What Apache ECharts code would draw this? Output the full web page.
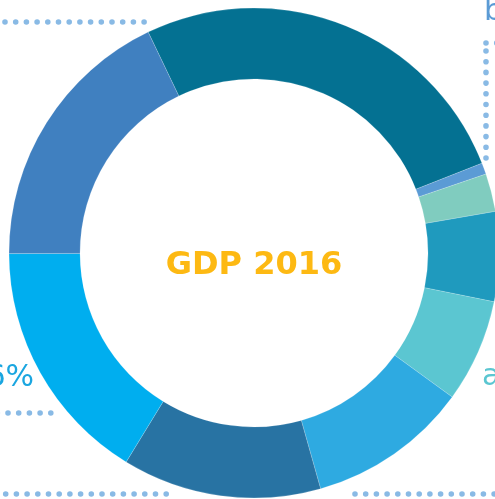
<!DOCTYPE html>
<html>
<head>
<meta charset="utf-8">
<script src="https://cdn.jsdelivr.net/npm/echarts@6/dist/echarts.min.js"></script>
<style>
html,body{margin:0;padding:0;background:#fff;}
#main{width:495px;height:499px;}
</style>
</head>
<body>
<div id="main"></div>
<script>
// Data (share of GDP 2016, percent)
var categories = ['Segment 1','Segment 2','Segment 3','Segment 4','Segment 5','Segment 6','Segment 7','Segment 8','Segment 9'];
var values = [26.1, 0.75, 2.5, 5.9, 6.8, 10.6, 13.1, 16.2, 17.9];
var colors = ['#047192','#5B9BD5','#80CCBF','#1F9ABE','#5BC6D1','#2EAAE1','#2873A3','#00AEEF','#4080C0'];
var centerTitle = 'GDP 2016';
var sideLabels = ['b', 'a', '16%'];

var chart = echarts.init(document.getElementById('main'), null, {renderer:'canvas'});

function dotted(x1, y1, x2, y2) {
  return {
    type: 'line',
    shape: {x1: x1, y1: y1, x2: x2, y2: y2},
    style: {stroke: '#89BAE5', lineWidth: 5.6, lineCap: 'round', lineDash: [0, 10.7]},
    silent: true
  };
}

var option = {
  backgroundColor: '#fff',
  animation: false,
  series: [{
    type: 'pie',
    center: [254, 253],
    radius: [174, 245],
    startAngle: 115.6,
    clockwise: true,
    avoidLabelOverlap: false,
    label: {show: false},
    labelLine: {show: false},
    emphasis: {disabled: true},
    itemStyle: {borderColor: 'rgba(255,255,255,0.35)', borderWidth: 0.5},
    data: categories.map(function (c, i) {
      return {name: c, value: values[i], itemStyle: {color: colors[i]}};
    })
  }],
  graphic: [
    {
      type: 'text',
      x: 254, y: 266,
      style: {
        text: centerTitle,
        fill: '#FDB913',
        font: 'bold 32px "DejaVu Sans"',
        align: 'center',
        verticalAlign: 'middle'
      }
    },
    {
      type: 'text', x: 484, y: 12,
      style: {text: sideLabels[0], fill: '#5B9BD5', font: '30px "DejaVu Sans"', align: 'left', verticalAlign: 'middle'}
    },
    {
      type: 'text', x: 482, y: 377,
      style: {text: sideLabels[1], fill: '#5BC6D1', font: '30px "DejaVu Sans"', align: 'left', verticalAlign: 'middle'}
    },
    {
      type: 'text', x: 34, y: 378,
      style: {text: sideLabels[2], fill: '#1AA6E0', font: '30px "DejaVu Sans"', align: 'right', verticalAlign: 'middle'}
    },
    dotted(5, 22, 146, 22),
    dotted(486, 158, 486, 43),
    dotted(486, 43, 500, 43),
    dotted(-2.7, 413, 52, 413),
    dotted(5.7, 494, 167, 494),
    dotted(355, 494, 500, 494)
  ]
};
chart.setOption(option);
</script>
</body>
</html>
